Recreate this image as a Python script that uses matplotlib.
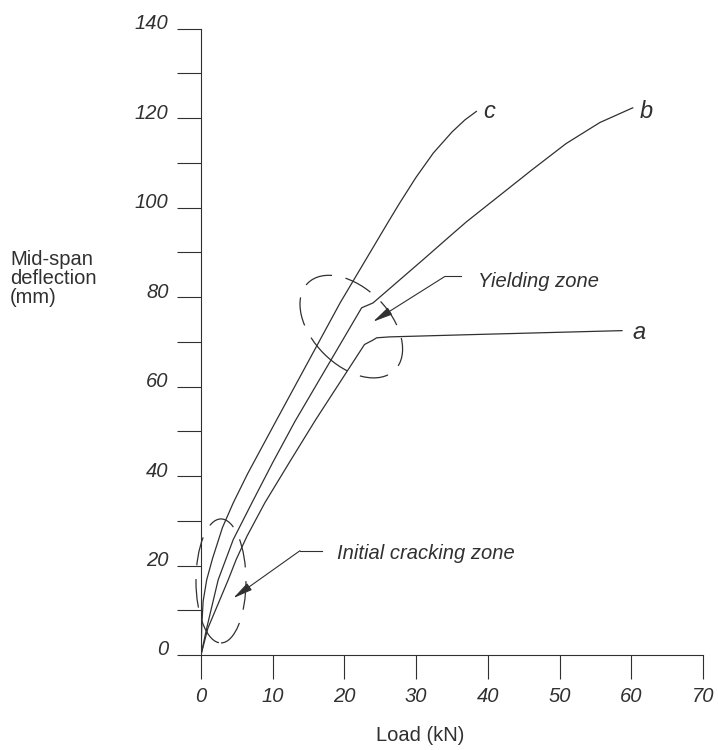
import matplotlib
matplotlib.use("Agg")
import matplotlib.pyplot as plt
import matplotlib.transforms as mtransforms
from matplotlib.patches import Ellipse

plt.rcParams['font.family'] = ['Liberation Sans', 'DejaVu Sans']

# load (kN) vs mid-span deflection (mm) for the three beams
load_a = [0, 0.97, 3.8, 4.9, 6.4, 8.9, 12.5, 16.0, 22.8, 24.0, 24.5, 26.3, 37.5, 58.7]
defl_a = [0, 6.0, 16.8, 21.3, 26.5, 34.0, 43.5, 52.6, 69.4, 70.4, 70.9, 71.1, 71.6, 72.5]

load_b = [0, 0.8, 2.4, 4.5, 7.1, 10.0, 13.1, 22.4, 24.0, 31.0, 34.7, 37.0,
          46.2, 50.9, 55.6, 60.2]
defl_b = [0, 6.0, 16.8, 25.8, 34.0, 43.0, 52.2, 77.6, 78.7, 88.4, 93.6, 96.8,
          108.5, 114.3, 119.0, 122.3]

load_c = [0, 0.1, 0.3, 0.8, 1.6, 3.0, 4.5, 6.5, 10.5, 19.4, 26.3, 27.7, 30.0,
          32.4, 35.0, 36.8, 38.4]
defl_c = [0, 6.0, 12.0, 16.8, 21.5, 28.5, 34.0, 40.5, 52.4, 78.7, 97.3, 101.0, 106.8,
          112.2, 116.9, 119.6, 121.5]

x_ticks = [0, 10, 20, 30, 40, 50, 60, 70]
y_ticks = [0, 20, 40, 60, 80, 100, 120, 140]

ink = '#303030'
fs = 14.5

fig = plt.figure(figsize=(7.18, 7.5), dpi=100)
ax = fig.add_axes([0.2799, 0.1267, 0.6992, 0.8351])

for x, y in [(load_a, defl_a), (load_b, defl_b), (load_c, defl_c)]:
    ax.plot(x, y, color=ink, lw=0.9, solid_joinstyle='round')

ax.set_xlim(0, 70)
ax.set_ylim(0, 140)
ax.set_xticks(x_ticks)
ax.set_yticks(y_ticks)
ax.set_yticks(range(10, 140, 20), minor=True)
ax.set_xticklabels([str(v) for v in x_ticks], fontstyle='italic', fontsize=fs, color=ink)
ax.set_yticklabels([str(v) for v in y_ticks], fontstyle='italic', fontsize=fs, color=ink)
ax.tick_params(axis='both', which='both', direction='out', length=17.3, width=0.8, color=ink)
ax.tick_params(axis='y', pad=6)
ax.tick_params(axis='x', pad=6)

for side in ['top', 'right']:
    ax.spines[side].set_visible(False)
for side in ['left', 'bottom']:
    ax.spines[side].set_color(ink)
    ax.spines[side].set_linewidth(0.8)

# y tick labels sit a little above their ticks
lift = mtransforms.ScaledTranslation(0, 0.07, fig.dpi_scale_trans)
for lab in ax.get_yticklabels():
    lab.set_transform(lab.get_transform() + lift)

ax.set_xlabel('Load (kN)', fontsize=fs, color=ink)
ax.xaxis.set_label_coords(0.436, -0.113)
fig.text(0.014, 1 - 250 / 750, 'Mid-span\ndeflection\n(mm)', ha='left', va='top',
         fontsize=fs, color=ink, linespacing=1.0)

# curve labels
for name, (lx, ly) in {'a': (61.1, 72.0), 'b': (62.1, 121.5), 'c': (40.25, 121.5)}.items():
    ax.text(lx, ly, name, fontsize=17, fontstyle='italic', color=ink,
            ha='center', va='center')

# dashed zones (sizes in inches so they keep their shape)
def zone(cx, cy, w, h, angle):
    tr = fig.dpi_scale_trans + mtransforms.ScaledTranslation(cx, cy, ax.transData)
    e = Ellipse((0, 0), w, h, angle=angle, transform=tr, fill=False,
                ec=ink, lw=0.9, ls=(0, (23, 11)), clip_on=False)
    ax.add_artist(e)

zone(20.96, 73.4, 1.23, 0.77, -45)
zone(2.79, 16.55, 0.50, 1.24, 0)

# leaders with arrows
def leader(text, tx, ty, hx0, hx1, hy, tip):
    ax.plot([hx0, hx1], [hy, hy], color=ink, lw=0.8)
    ax.annotate('', xy=tip, xytext=(hx1, hy),
                arrowprops=dict(arrowstyle='-|>,head_length=1.2,head_width=0.25',
                                color=ink, lw=0.8, shrinkA=0, shrinkB=0,
                                mutation_scale=10))
    ax.text(tx, ty, text, fontsize=fs, fontstyle='italic', color=ink,
            ha='left', va='center')

leader('Yielding zone', 38.6, 83.4, 36.3, 34.0, 84.6, (24.0, 74.5))
leader('Initial cracking zone', 18.9, 22.75, 16.9, 13.8, 23.3, (4.5, 12.7))

fig.savefig('out.png', dpi=100)
